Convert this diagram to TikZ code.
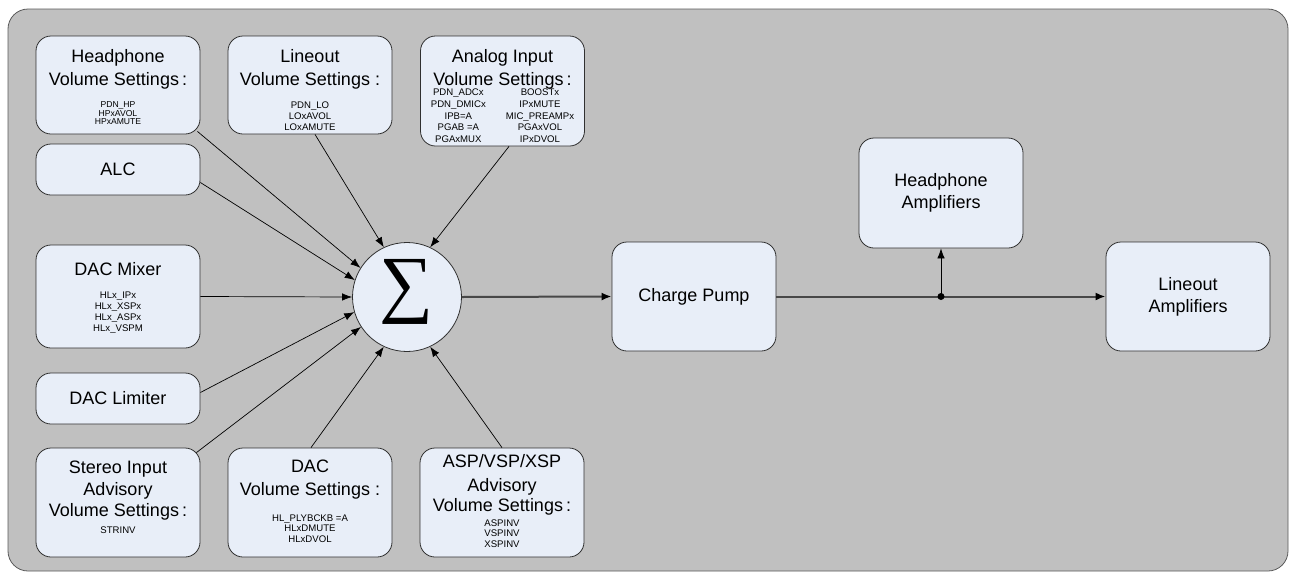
\documentclass[tikz,border=0pt]{standalone}
\usepackage{fontspec}
\usepackage{graphicx}
\setmainfont{Liberation Sans}
\newfontfamily\sumfont{Liberation Serif}
\usetikzlibrary{arrows.meta,calc}

\definecolor{framefill}{HTML}{C0C0C0}
\definecolor{framedraw}{HTML}{5A5A5A}
\definecolor{boxfill}{HTML}{E8EEF8}
\definecolor{boxdraw}{HTML}{303030}
\definecolor{busline}{HTML}{484848}

% line spacing inside the blocks is given explicitly with \\[..]
\newcommand\ttl{\fontsize{18}{0}\selectfont}
\newcommand\sml{\fontsize{9.6}{0}\selectfont}
\newcommand\smlt{\fontsize{8.6}{0}\selectfont}
\newcommand\firstline{\rule{0pt}{13pt}}

\begin{document}
\begin{tikzpicture}[x=1pt,y=-1pt,
  blk/.style={draw=boxdraw, fill=boxfill, rounded corners=15pt, line width=0.8pt,
              minimum width=164pt, inner sep=0pt, align=center, font=\ttl},
  txt/.style={inner sep=0pt, align=center, font=\ttl, anchor=north},
  feed/.style={draw=black, line width=0.7pt, -{Latex[length=10pt,width=7.5pt]}},
  bus/.style={draw=busline, line width=2pt, -{Latex[length=10pt,width=8pt,color=black]}},
  sumnode/.style={circle, draw=boxdraw, fill=boxfill, line width=0.8pt,
              minimum size=109pt, inner sep=0pt}]
\lineskiplimit=-1000pt \lineskip=0pt
\useasboundingbox (0,0) rectangle (1296,579);

% frame
\draw[draw=framedraw, fill=framefill, rounded corners=20pt, line width=0.8pt]
  (8,9) rectangle (1288,571);

% top row
\node[blk, minimum height=98pt] (hpv) at (118,85) {};
\node[txt] (hpvt) at (118,49)
  {\firstline Headphone\\[23pt]Volume Settings\,:\\[22.5pt]\smlt PDN\_HP\\[8.5pt]\smlt HPxAVOL\\[8.5pt]\smlt HPxAMUTE};
\node[blk, minimum height=98pt] (lov) at (310,85) {};
\node[txt] (lovt) at (310,49)
  {\firstline Lineout\\[23pt]Volume Settings :\\[23pt]\sml PDN\_LO\\[11pt]\sml LOxAVOL\\[11pt]\sml LOxAMUTE};
\node[blk, minimum height=110pt] (aiv) at (502.5,91) {};
\node[txt] (aivt) at (502.5,49)
  {\firstline Analog Input\\[23pt]Volume Settings\,:\\[10.5pt]{\lineskiplimit=0pt\fontsize{9.6}{11.7}\selectfont
   \begin{tabular}[t]{@{}c@{\hspace{20pt}}c@{}}
   PDN\_ADCx & BOOSTx\\ PDN\_DMICx & IPxMUTE\\ IPB=A & MIC\_PREAMPx\\ PGAB =A & PGAxVOL\\ PGAxMUX & IPxDVOL
   \end{tabular}}};

% left column
\node[blk, minimum height=51pt] (alc) at (118,169.5) {ALC};
\node[blk, minimum height=103pt] (mix) at (118,296.5) {};
\node[txt] (mixt) at (118,262)
  {\firstline DAC Mixer\\[23pt]\sml HLx\_IPx\\[11pt]\sml HLx\_XSPx\\[11pt]\sml HLx\_ASPx\\[11pt]\sml HLx\_VSPM};
\node[blk, minimum height=51pt] (lim) at (118,398.5) {DAC Limiter};

% bottom row
\node[blk, minimum height=109pt] (sti) at (118,502.5) {};
\node[txt] (stit) at (118,460)
  {\firstline Stereo Input\\[22pt]Advisory\\[21pt]Volume Settings\,:\\[17pt]\sml STRINV};
\node[blk, minimum height=109pt] (dav) at (310,502.5) {};
\node[txt] (davt) at (310,459)
  {\firstline DAC\\[23pt]Volume Settings :\\[26pt]\sml HL\_PLYBCKB =A\\[10.5pt]\sml HLxDMUTE\\[10.5pt]\sml HLxDVOL};
\node[blk, minimum height=109pt] (asp) at (502,502.5) {};
\node[txt] (aspt) at (502,454)
  {\firstline ASP/VSP/XSP\\[24pt]Advisory\\[20pt]Volume Settings\,:\\[15pt]\sml ASPINV\\[10.5pt]\sml VSPINV\\[10.5pt]\sml XSPINV};

% summing junction
\node[sumnode] (sig) at (407,297) {};
\node[inner sep=0pt] (sigma) at (406,292) {\resizebox*{54pt}{65pt}{\sumfont ∑}};

% output chain
\node[blk, minimum height=109pt] (cp) at (694,296.5) {Charge Pump};
\node[blk, minimum height=110pt] (hpa) at (941,193) {Headphone\\[22pt]Amplifiers};
\node[blk, minimum height=109pt] (loa) at (1188,296.5) {Lineout\\[22pt]Amplifiers};
\coordinate (jn) at (941,296.5);

% inputs to the summing junction
\draw[feed] ($(hpv.south east)+(-3,-3)$) -- (sig.148);
\draw[feed] ($(lov.south)+(5,0)$) -- (sig.115);
\draw[feed] ($(aiv.south)+(6.5,0)$) -- (sig.65);
\draw[feed] ($(alc.east)+(0,13)$) -- (sig.162);
\draw[feed] (mix.east) -- (sig.west);
\draw[feed] ($(lim.east)+(0,-6)$) -- (sig.196);
\draw[feed] ($(sti.north east)+(-4,5)$) -- (sig.213);
\draw[feed] ($(dav.north)+(1,0)$) -- (sig.245);
\draw[feed] (asp.north) -- (sig.295);

% signal path
\draw[bus] (sig.east) -- (cp.west);
\draw[bus] (cp.east) -- (jn) -- (loa.west);
\draw[feed] (jn) -- (hpa.south);
\fill (jn) circle (3.5pt);
\end{tikzpicture}
\end{document}
